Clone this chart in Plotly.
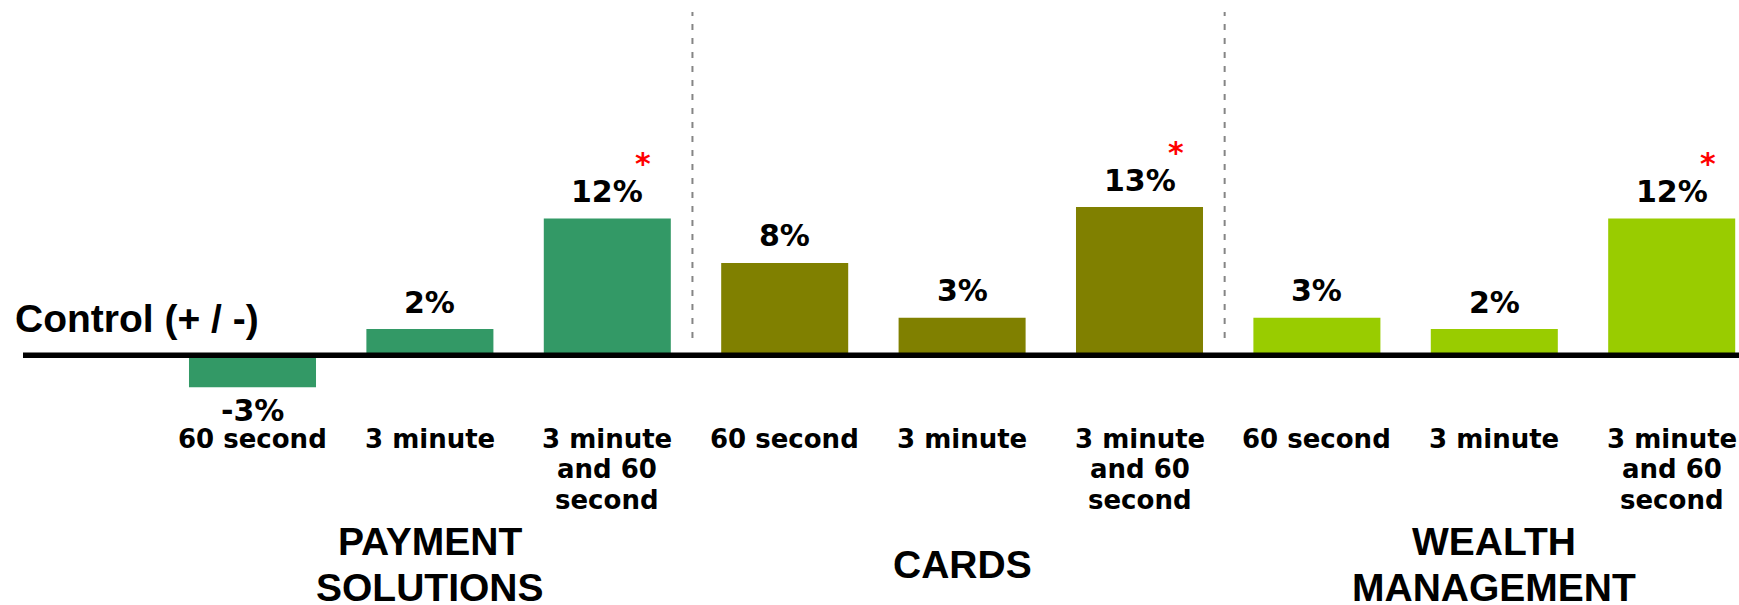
import plotly.graph_objects as go

# ---------------- data ----------------
groups = ["PAYMENT SOLUTIONS", "CARDS", "WEALTH MANAGEMENT"]
group_lines = [["PAYMENT", "SOLUTIONS"], ["CARDS"], ["WEALTH", "MANAGEMENT"]]
durations = ["60 second", "3 minute", "3 minute<br>and 60<br>second"]
payment_solutions = [-2.8, 2.3, 12.0]
cards = [8.1, 3.3, 13.0]
wealth_management = [3.3, 2.3, 12.0]
significant = [False, False, True]
group_colors = ["#339966", "#808000", "#99CC00"]
baseline_label = "Control (+ / -)"

series = [payment_solutions, cards, wealth_management]

# ---------------- layout geometry (pixels) ----------------
W, H = 1739, 605
X0_PX, X_STEP = 252.5, 177.4      # centre of first bar, spacing between bars
Y0_PX, Y_STEP = 355.3, 11.4       # zero line position, pixels per percentage point

x_range = [-X0_PX / X_STEP, (W - X0_PX) / X_STEP]
y_range = [-(H - Y0_PX) / Y_STEP, Y0_PX / Y_STEP]


def py(px):
    return 1 - px / H


LABEL_FONT = dict(family="DejaVu Sans, Verdana, sans-serif", size=30, color="black")
TICK_FONT = dict(family="DejaVu Sans, Verdana, sans-serif", size=26, color="black")
HEAD_FONT = dict(family="Liberation Sans, Arial, sans-serif", size=39, color="black")

fig = go.Figure()
annotations = []

for g, (vals, col) in enumerate(zip(series, group_colors)):
    xs = [g * 3 + j for j in range(len(vals))]
    fig.add_trace(go.Bar(
        x=xs, y=vals, width=0.716, name=groups[g],
        marker=dict(color=col, line=dict(width=0)),
        hoverinfo="skip",
    ))
    for x, v, sig in zip(xs, vals, significant):
        annotations.append(dict(
            x=x, y=v, xref="x", yref="y", showarrow=False,
            text=f"<b>{round(v)}%</b>", font=LABEL_FONT,
            yanchor="middle", xanchor="center",
            yshift=27 if v >= 0 else -23,
        ))
        if sig:
            annotations.append(dict(
                x=x, y=v, xref="x", yref="y", showarrow=False,
                text="<b>*</b>", font=dict(LABEL_FONT, color="#FF0000"),
                yanchor="middle", xanchor="center",
                xshift=36, yshift=55,
            ))
    # category (duration) labels
    for x, d in zip(xs, durations):
        for k, line in enumerate(d.split("<br>")):
            annotations.append(dict(
                x=x, y=py(438.5 + 30.5 * k), xref="x", yref="paper",
                showarrow=False, text=f"<b>{line}</b>", font=TICK_FONT,
                yanchor="middle", xanchor="center",
            ))
    # group heading
    lines = group_lines[g]
    centre = 564
    for k, line in enumerate(lines):
        ypx = centre + (k - (len(lines) - 1) / 2) * 46
        annotations.append(dict(
            x=g * 3 + 1, y=py(ypx), xref="x", yref="paper", showarrow=False,
            text=f"<b>{line}</b>", font=HEAD_FONT,
            yanchor="middle", xanchor="center",
        ))

# baseline label
annotations.append(dict(
    x=13 / W, y=py(318), xref="paper", yref="paper", showarrow=False,
    text=f"<b>{baseline_label}</b>", font=HEAD_FONT,
    xanchor="left", yanchor="middle",
))

shapes = []
# dashed separators between groups
for g in range(1, len(series)):
    shapes.append(dict(
        type="line", xref="x", yref="paper",
        x0=g * 3 - 0.52, x1=g * 3 - 0.52, y0=py(338), y1=py(12),
        line=dict(color="#858585", width=2, dash="6px,8px"),
    ))
# zero line
shapes.append(dict(
    type="line", xref="paper", yref="y",
    x0=23 / W, x1=1, y0=0, y1=0,
    line=dict(color="black", width=5.5),
))

fig.update_layout(
    width=W, height=H,
    margin=dict(l=0, r=0, t=0, b=0),
    paper_bgcolor="white", plot_bgcolor="white",
    showlegend=False, barmode="overlay",
    xaxis=dict(visible=False, range=x_range, fixedrange=True),
    yaxis=dict(visible=False, range=y_range, fixedrange=True),
    annotations=annotations, shapes=shapes,
)

fig.write_html("out.html", config={"displayModeBar": False})
